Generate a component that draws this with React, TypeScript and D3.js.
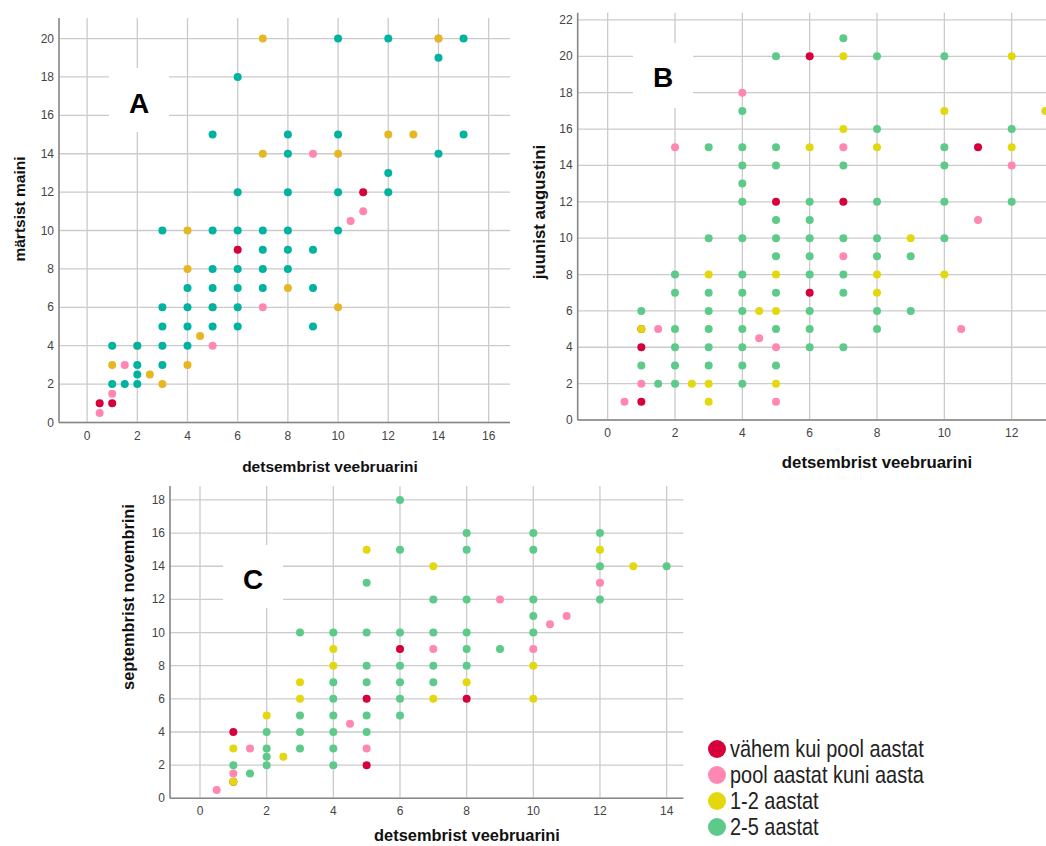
import React from 'react';
import * as d3 from 'd3';

// legend categories (time with pet)
const categories = ['vähem kui pool aastat', 'pool aastat kuni aasta', '1-2 aastat', '2-5 aastat'];

// panel A: x = detsembrist veebruarini, y = märtsist maini
const aRed = [[0.5, 1], [1, 1], [6, 9], [11, 12]];
const aPink = [[0.5, 0.5], [1, 1.5], [1.5, 3], [5, 4], [7, 6], [9, 14], [10.5, 10.5], [11, 11], [14, 20]];
const aYellow = [[1, 3], [2.5, 2.5], [3, 2], [4, 3], [4.5, 4.5], [4, 8], [4, 10], [8, 7], [10, 6], [7, 14], [10, 14], [12, 15], [13, 15], [7, 20], [14, 20], [2, 4], [5, 6]];
const aTeal = [[1, 2], [1, 4], [1.5, 2], [2, 2], [2, 2.5], [2, 3], [2, 4], [3, 3], [3, 4], [3, 5], [3, 6], [3, 10], [4, 4], [4, 5], [4, 6], [4, 7], [5, 5], [5, 6], [5, 7], [5, 8], [5, 10], [5, 15], [6, 5], [6, 6], [6, 7], [6, 8], [6, 10], [6, 12], [6, 18], [7, 7], [7, 8], [7, 9], [7, 10], [8, 8], [8, 9], [8, 10], [8, 12], [8, 14], [8, 15], [9, 5], [9, 7], [9, 9], [10, 10], [10, 12], [10, 15], [10, 20], [12, 12], [12, 13], [12, 20], [14, 14], [14, 19], [15, 15], [15, 20]];

// panel B: x = detsembrist veebruarini, y = juunist augustini
const bRed = [[1, 1], [1, 4], [1, 5], [5, 12], [6, 7], [6, 20], [7, 12], [11, 15]];
const bPink = [[0.5, 1], [1, 2], [1.5, 5], [2, 15], [4, 18], [4.5, 4.5], [5, 1], [5, 4], [7, 9], [7, 15], [10.5, 5], [11, 11], [12, 14]];
const bYellow = [[1, 5], [2.5, 2], [3, 1], [3, 2], [3, 8], [4.5, 6], [5, 2], [5, 6], [5, 8], [6, 15], [7, 16], [7, 20], [8, 7], [8, 8], [8, 15], [9, 10], [10, 8], [10, 17], [12, 15], [12, 20], [13, 17]];
const bGreen = [[1, 3], [1, 6], [1.5, 2], [2, 2], [2, 3], [2, 4], [2, 5], [2, 7], [2, 8], [3, 3], [3, 4], [3, 5], [3, 6], [3, 7], [3, 10], [3, 15], [4, 2], [4, 3], [4, 4], [4, 5], [4, 6], [4, 7], [4, 8], [4, 10], [4, 12], [4, 13], [4, 14], [4, 15], [4, 17], [5, 3], [5, 5], [5, 7], [5, 9], [5, 10], [5, 11], [5, 14], [5, 15], [5, 20], [6, 4], [6, 5], [6, 6], [6, 8], [6, 9], [6, 10], [6, 11], [6, 12], [7, 4], [7, 7], [7, 8], [7, 10], [7, 14], [7, 21], [8, 5], [8, 6], [8, 9], [8, 10], [8, 12], [8, 16], [8, 20], [9, 6], [9, 9], [10, 10], [10, 12], [10, 14], [10, 15], [10, 20], [12, 12], [12, 16]];

// panel C: x = detsembrist veebruarini, y = septembrist novembrini
const cRed = [[1, 1], [1, 4], [5, 2], [5, 6], [6, 9], [8, 6]];
const cPink = [[0.5, 0.5], [1, 1.5], [1.5, 3], [4.5, 4.5], [5, 3], [7, 9], [9, 12], [10, 9], [10.5, 10.5], [11, 11], [12, 13]];
const cYellow = [[1, 1], [1, 3], [2, 5], [2.5, 2.5], [3, 6], [3, 7], [4, 8], [4, 9], [5, 15], [7, 6], [7, 14], [8, 7], [10, 6], [10, 8], [12, 15], [13, 14]];
const cGreen = [[1, 2], [1.5, 1.5], [2, 2], [2, 2.5], [2, 3], [2, 4], [3, 3], [3, 4], [3, 5], [3, 10], [4, 2], [4, 3], [4, 4], [4, 5], [4, 6], [4, 7], [4, 10], [5, 4], [5, 5], [5, 7], [5, 8], [5, 10], [5, 13], [6, 5], [6, 6], [6, 7], [6, 8], [6, 10], [6, 15], [6, 18], [7, 7], [7, 8], [7, 10], [7, 12], [8, 8], [8, 9], [8, 10], [8, 12], [8, 15], [8, 16], [9, 9], [10, 10], [10, 11], [10, 12], [10, 15], [10, 16], [12, 12], [12, 14], [12, 16], [14, 14]];

const xTicksA = d3.range(0, 17, 2);
const yTicksA = d3.range(0, 21, 2);
const xTicksB = d3.range(0, 13, 2);
const yTicksB = d3.range(0, 23, 2);
const xTicksC = d3.range(0, 15, 2);
const yTicksC = d3.range(0, 19, 2);

const RED = '#d6003a';
const PINK = '#ff87b2';
const GOLD = '#e6b623';
const TEAL = '#00b3a0';
const YELLOW = '#e3d80e';
const GREEN = '#5dca8a';

const FONT = "'Liberation Sans', Arial, sans-serif";

function Panel({ cfg }) {
  const x = d3.scaleLinear().domain(cfg.xDomain).range(cfg.xRange);
  const y = d3.scaleLinear().domain(cfg.yDomain).range(cfg.yRange);
  const [x0, x1] = cfg.xRange;
  const [y0, y1] = cfg.yRange;
  return (
    <g>
      {/* grid */}
      {cfg.xTicks.map((t) => (
        <line key={'gx' + t} x1={x(t)} x2={x(t)} y1={y0} y2={y1} stroke="#cbcbcb" strokeWidth={1.3} />
      ))}
      {cfg.yTicks.map((t) => (
        <line key={'gy' + t} x1={x0} x2={x1} y1={y(t)} y2={y(t)} stroke="#cbcbcb" strokeWidth={1.3} />
      ))}
      {/* panel letter */}
      <rect x={cfg.box[0]} y={cfg.box[1]} width={cfg.box[2]} height={cfg.box[3]} fill="#fff" />
      <text x={cfg.box[0] + cfg.box[2] / 2} y={cfg.letterY} textAnchor="middle" fontFamily={FONT}
        fontWeight="bold" fontSize={28} fill="#000">{cfg.letter}</text>
      {/* axes */}
      <line x1={x0} x2={x1} y1={y0} y2={y0} stroke="#868686" strokeWidth={1.6} />
      <line x1={x0} x2={x0} y1={y0} y2={y1} stroke="#868686" strokeWidth={1.6} />
      {cfg.xTicks.map((t) => (
        <text key={'tx' + t} x={x(t)} y={y0 + 17} textAnchor="middle" fontFamily={FONT} fontSize={12} fill="#444">{t}</text>
      ))}
      {cfg.yTicks.map((t) => (
        <text key={'ty' + t} x={x0 - 5} y={y(t) + 4} textAnchor="end" fontFamily={FONT} fontSize={12} fill="#444">{t}</text>
      ))}
      {/* points, drawn in legend order */}
      {cfg.series.map((s, si) => (
        <g key={'s' + si}>
          {s.data.map((d, i) => (
            <circle key={i} cx={x(d[0])} cy={y(d[1])} r={4} fill={s.color} />
          ))}
        </g>
      ))}
      {/* titles */}
      <text x={cfg.xTitle[0]} y={cfg.xTitle[1]} textAnchor="middle" fontFamily={FONT} fontWeight="bold"
        fontSize={cfg.titleSize} fill="#111">detsembrist veebruarini</text>
      <text transform={`translate(${cfg.yTitle[0]},${cfg.yTitle[1]}) rotate(-90)`} textAnchor="middle"
        fontFamily={FONT} fontWeight="bold" fontSize={cfg.titleSize} fill="#111">{cfg.yLabel}</text>
    </g>
  );
}

const panels = [
  {
    letter: 'A', xDomain: [-1.12, 16.85], xRange: [59, 510], yDomain: [0, 21.07], yRange: [422.5, 18],
    xTicks: xTicksA, yTicks: yTicksA, box: [109, 68, 60, 64], letterY: 113,
    xTitle: [330, 472], yTitle: [25, 209], yLabel: 'märtsist maini', titleSize: 15.5,
    series: [{ data: aRed, color: RED }, { data: aPink, color: PINK }, { data: aYellow, color: GOLD }, { data: aTeal, color: TEAL }],
  },
  {
    letter: 'B', xDomain: [-0.89, 13.5], xRange: [577.7, 1062.2], yDomain: [0, 22.4], yRange: [420, 12.7],
    xTicks: xTicksB, yTicks: yTicksB, box: [633, 43, 60, 65], letterY: 87,
    xTitle: [877, 468], yTitle: [545, 212], yLabel: 'juunist augustini', titleSize: 16.8,
    series: [{ data: bRed, color: RED }, { data: bPink, color: PINK }, { data: bYellow, color: YELLOW }, { data: bGreen, color: GREEN }],
  },
  {
    letter: 'C', xDomain: [-0.9, 14.5], xRange: [170, 683.3], yDomain: [0, 18.84], yRange: [798.3, 486],
    xTicks: xTicksC, yTicks: yTicksC, box: [223, 545, 60, 63], letterY: 589,
    xTitle: [467, 841], yTitle: [134, 597], yLabel: 'septembrist novembrini', titleSize: 16.4,
    series: [{ data: cRed, color: RED }, { data: cPink, color: PINK }, { data: cYellow, color: YELLOW }, { data: cGreen, color: GREEN }],
  },
];

const legendColors = [RED, PINK, YELLOW, GREEN];

export default function App() {
  const legendY = d3.scaleLinear().domain([0, 3]).range([749, 827]);
  return (
    <svg width={1046} height={846} style={{ position: 'absolute', left: 0, top: 0, background: '#fff' }}>
      <rect width={1046} height={846} fill="#fff" />
      {panels.map((p) => (
        <Panel key={p.letter} cfg={p} />
      ))}
      {categories.map((c, i) => (
        <g key={c}>
          <circle cx={717} cy={legendY(i)} r={9} fill={legendColors[i]} />
          <text transform={`translate(730,${legendY(i) + 8}) scale(0.83,1)`} fontFamily={FONT}
            fontSize={24} fill="#222">{c}</text>
        </g>
      ))}
    </svg>
  );
}
